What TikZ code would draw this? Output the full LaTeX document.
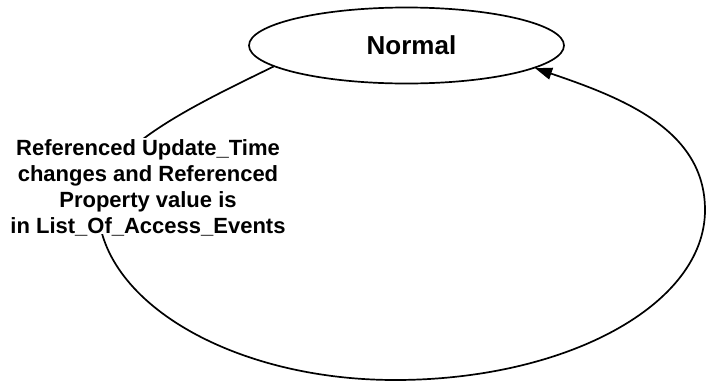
\documentclass[tikz,border=0pt]{standalone}
\usepackage{fontspec}
\setmainfont{Liberation Sans}
\usetikzlibrary{shapes.geometric,arrows.meta}
\tikzset{
  state/.style={ellipse, draw=black, line width=1.7pt, fill=white,
    minimum width=315pt, minimum height=76pt, inner sep=0pt,
    font=\fontsize{26}{30}\selectfont\bfseries},
  edge/.style={draw=black, line width=1.7pt,
    -{Triangle[length=17pt,width=12pt]}},
  guard/.style={align=center, fill=white, inner xsep=0pt, inner ysep=1pt,
    text depth=0pt, font=\fontsize{22}{26}\selectfont\bfseries}
}
\begin{document}
\begin{tikzpicture}[x=1pt,y=-1pt]
  \useasboundingbox (0,0) rectangle (707,381);
  % the single state (its name sits a little right of centre)
  \node[state] (normal) at (406.5,45.5) {\hspace*{10pt}Normal};
  % self transition looping round below the state
  \draw[edge] (normal.189.7)
      .. controls (195,105) and (98,150) .. (98,205)
      .. controls (98,301) and (232,380) .. (395,380)
      .. controls (566,380) and (705,305) .. (705,210)
      .. controls (705,130) and (623,98) .. (normal.350.5);
  % transition condition
  \node[guard, anchor=north] (cond) at (148,138)
    {Referenced Update\_Time\\changes and Referenced\\Property value is\\in List\_Of\_Access\_Events};
\end{tikzpicture}
\end{document}
